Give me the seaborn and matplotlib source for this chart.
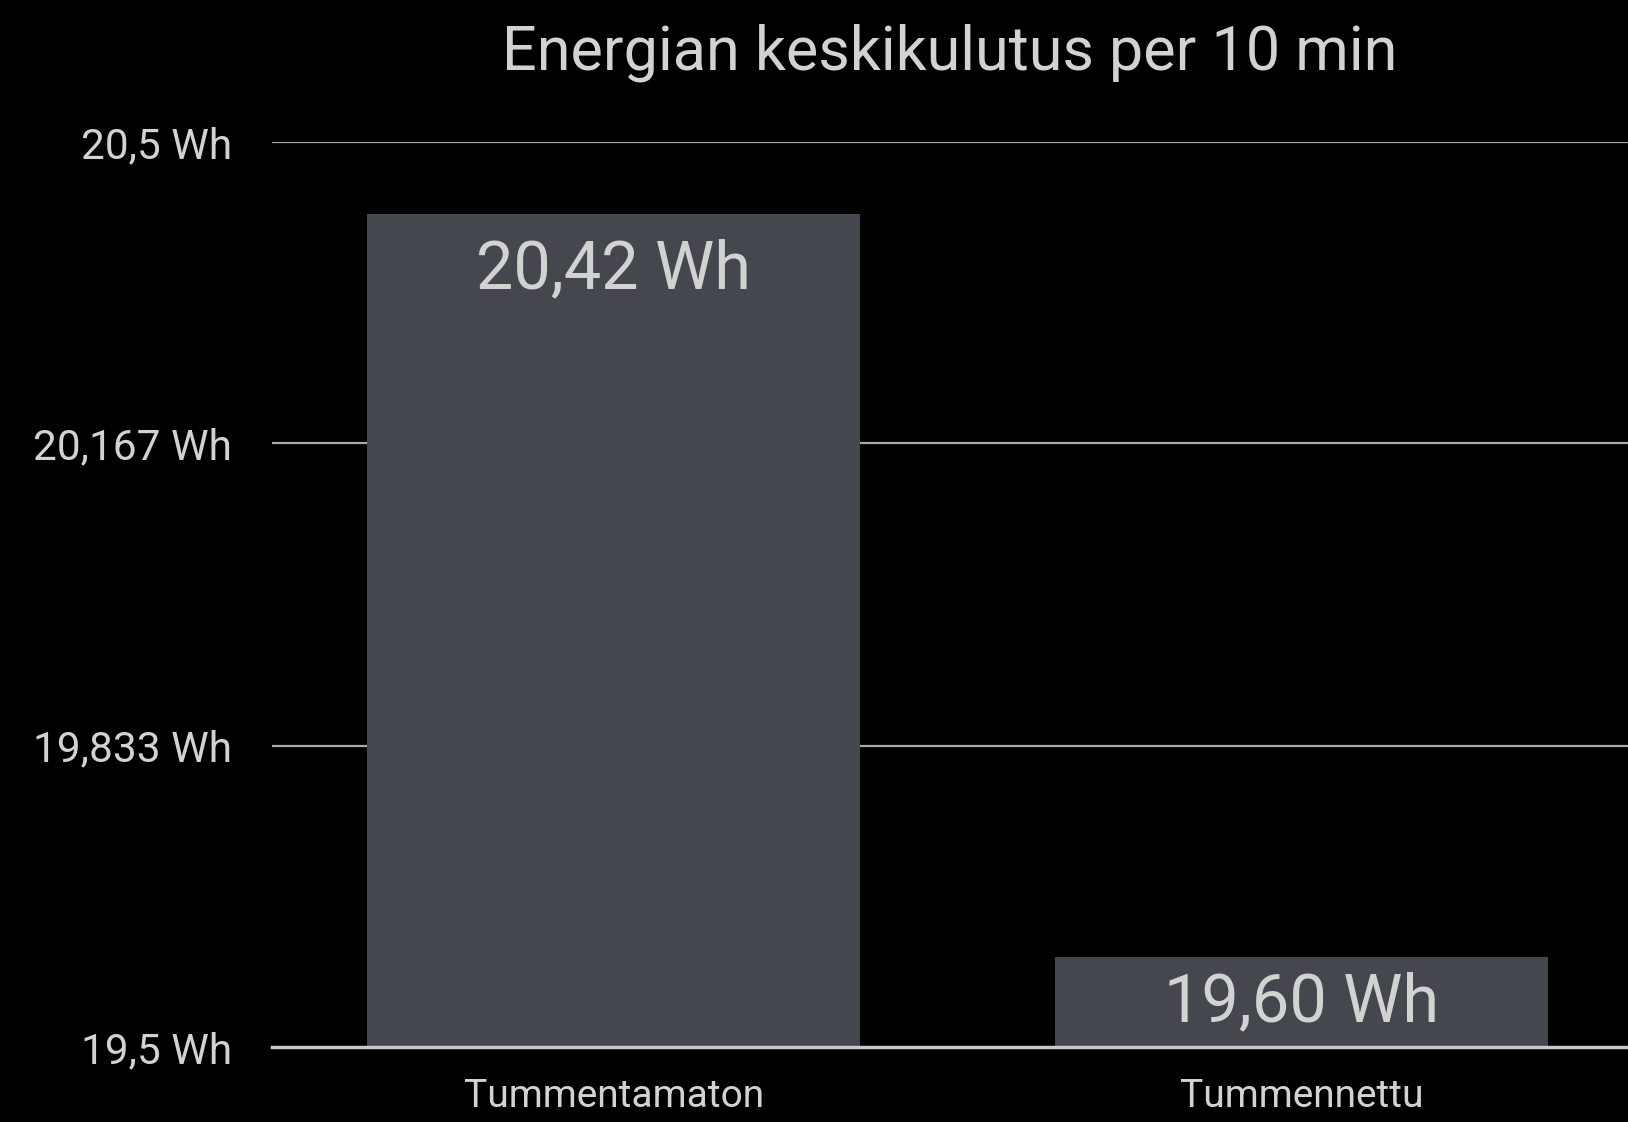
import matplotlib
matplotlib.use("Agg")
import matplotlib.pyplot as plt
import seaborn as sns
import pandas as pd

categories = ["Tummentamaton", "Tummennettu"]
values = [20.42, 19.60]
value_labels = ["20,42 Wh", "19,60 Wh"]
ytick_values = [19.5, 19.833, 20.167, 20.5]
ytick_labels = ["19,5 Wh", "19,833 Wh", "20,167 Wh", "20,5 Wh"]
title = "Energian keskikulutus per 10 min"

sns.set_theme(style="dark")
plt.rcParams['font.family'] = ['Roboto', 'DejaVu Sans']

BG = "#000000"
TXT = "#d2d2d2"
BAR = "#44474e"

df = pd.DataFrame({"cat": categories, "val": values})

fig = plt.figure(figsize=(16.28, 11.22), dpi=100, facecolor=BG)
ax = fig.add_axes([272/1628, 1 - 1047/1122, (1628-272)/1628, (1047-142)/1122])
ax.set_facecolor(BG)

for yv in ytick_values[1:]:
    ax.axhline(yv, color="#a8a8a8", lw=1.6, zorder=0)

sns.barplot(data=df, x="cat", y="val", color=BAR, saturation=1, width=0.717,
            ax=ax, zorder=2)
for p in ax.patches:
    p.set_edgecolor("none")

ax.set_ylim(19.5, 20.5)
ax.set_xlim(-0.497, 1.475)
ax.set_yticks(ytick_values)
ax.set_yticklabels(ytick_labels)
ax.set_xlabel("")
ax.set_ylabel("")
ax.tick_params(axis="y", colors=TXT, labelsize=30.5, length=0, pad=29)
ax.tick_params(axis="x", colors=TXT, labelsize=28, length=0, pad=22)
for lab in ax.get_yticklabels() + ax.get_xticklabels():
    lab.set_fontweight("normal")
    lab.set_color(TXT)

for s in ["top", "right", "left"]:
    ax.spines[s].set_visible(False)
ax.spines["bottom"].set_color("#c8c8c8")
ax.spines["bottom"].set_linewidth(2.5)
ax.spines["bottom"].set_zorder(3)
ax.grid(False)

offsets = [-53, -47]
for i, (v, lab) in enumerate(zip(values, value_labels)):
    ax.annotate(lab, xy=(i, v), xytext=(0, offsets[i]), textcoords="offset points",
                ha="center", va="baseline", fontsize=48, color=TXT,
                fontweight="normal", zorder=4)

ax.set_title(title, color=TXT, fontsize=44, fontweight="normal", pad=52)

fig.savefig("out.png", dpi=100, facecolor=BG)
